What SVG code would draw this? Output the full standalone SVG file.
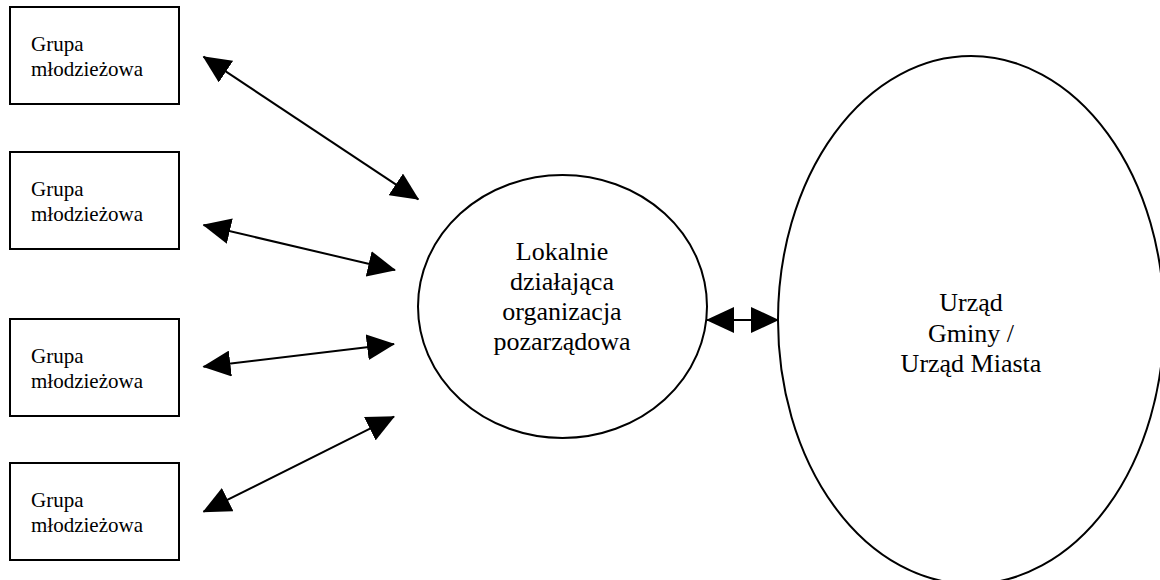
<svg xmlns="http://www.w3.org/2000/svg" width="1160" height="580" viewBox="0 0 1160 580">
  <style>
    .box { fill: #ffffff; stroke: #000000; stroke-width: 2; }
    .ell { fill: #ffffff; stroke: #000000; stroke-width: 2; }
    .small { font-family: "Liberation Serif", "Times New Roman", serif; font-size: 21px; fill: #000000; }
    .big { font-family: "Liberation Serif", "Times New Roman", serif; font-size: 26px; fill: #000000; text-anchor: middle; }
    .conn { stroke: #000000; stroke-width: 2; fill: none; marker-start: url(#ah); marker-end: url(#ah); }
  </style>
  <defs>
    <marker id="ah" markerUnits="userSpaceOnUse" markerWidth="28" markerHeight="26" refX="27" refY="13" orient="auto-start-reverse" viewBox="0 0 28 26">
      <path d="M0,0 L28,13 L0,26 z" fill="#000000"/>
    </marker>
  </defs>
  <rect x="0" y="0" width="1160" height="580" fill="#ffffff"/>

  <g id="grupa1">
    <rect class="box" x="10" y="7" width="169" height="97"/>
    <text class="small" x="31" y="51">Grupa</text>
    <text class="small" x="31" y="76">młodzieżowa</text>
  </g>
  <g id="grupa2">
    <rect class="box" x="10" y="152" width="169" height="97"/>
    <text class="small" x="31" y="196">Grupa</text>
    <text class="small" x="31" y="221">młodzieżowa</text>
  </g>
  <g id="grupa3">
    <rect class="box" x="10" y="319" width="169" height="97"/>
    <text class="small" x="31" y="363">Grupa</text>
    <text class="small" x="31" y="388">młodzieżowa</text>
  </g>
  <g id="grupa4">
    <rect class="box" x="10" y="463" width="169" height="97"/>
    <text class="small" x="31" y="507">Grupa</text>
    <text class="small" x="31" y="532">młodzieżowa</text>
  </g>

  <g id="organizacja">
    <ellipse class="ell" cx="562.5" cy="306.5" rx="144.5" ry="131.5"/>
    <text class="big" x="562" y="260">Lokalnie</text>
    <text class="big" x="562" y="290">działająca</text>
    <text class="big" x="562" y="320">organizacja</text>
    <text class="big" x="562" y="350">pozarządowa</text>
  </g>

  <g id="urzad">
    <ellipse class="ell" cx="971" cy="320" rx="193" ry="264"/>
    <text class="big" x="971" y="311">Urząd</text>
    <text class="big" x="971" y="342">Gminy /</text>
    <text class="big" x="971" y="372">Urząd Miasta</text>
  </g>

  <g id="connectors">
    <line class="conn" x1="203.5" y1="56.7" x2="418.3" y2="199.3"/>
    <line class="conn" x1="203.5" y1="225" x2="395" y2="270"/>
    <line class="conn" x1="203.5" y1="366.7" x2="394" y2="344"/>
    <line class="conn" x1="203.5" y1="511.7" x2="394" y2="416.7"/>
    <line class="conn" x1="707" y1="320" x2="778" y2="320"/>
  </g>
</svg>
